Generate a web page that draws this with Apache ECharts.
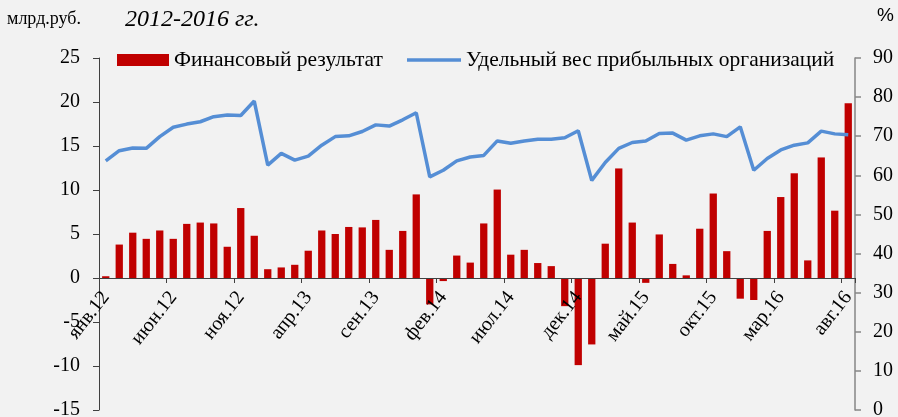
<!DOCTYPE html>
<html>
<head>
<meta charset="utf-8">
<script src="https://cdn.jsdelivr.net/npm/echarts@6/dist/echarts.min.js"></script>
<style>
  html, body { margin: 0; padding: 0; background: #f2f2f2; }
  #chart { width: 898px; height: 417px; }
</style>
</head>
<body>
<div id="chart"></div>
<script>
// Months, January 2012 through August 2016
const months = [
  'янв.12','фев.12','мар.12','апр.12','май.12','июн.12','июл.12','авг.12','сен.12','окт.12','ноя.12','дек.12',
  'янв.13','фев.13','мар.13','апр.13','май.13','июн.13','июл.13','авг.13','сен.13','окт.13','ноя.13','дек.13',
  'янв.14','фев.14','мар.14','апр.14','май.14','июн.14','июл.14','авг.14','сен.14','окт.14','ноя.14','дек.14',
  'янв.15','фев.15','мар.15','апр.15','май.15','июн.15','июл.15','авг.15','сен.15','окт.15','ноя.15','дек.15',
  'янв.16','фев.16','мар.16','апр.16','май.16','июн.16','июл.16','авг.16'
];

// Financial result, bn roubles
const financialResult = [
  0.2, 3.8, 5.15, 4.45, 5.4, 4.45, 6.15, 6.3, 6.2, 3.55, 7.95, 4.8,
  1.0, 1.2, 1.5, 3.1, 5.4, 5.0, 5.8, 5.75, 6.6, 3.2, 5.35, 9.5,
  -3.0, -0.35, 2.55, 1.75, 6.2, 10.05, 2.65, 3.2, 1.7, 1.35, -3.2, -9.9,
  -7.55, 3.9, 12.45, 6.3, -0.55, 4.95, 1.6, 0.3, 5.6, 9.6, 3.05, -2.35,
  -2.5, 5.35, 9.2, 11.9, 2.0, 13.7, 7.65, 19.85
];

// Share of profitable organisations, %
const profitableShare = [
  63.7, 66.3, 67.0, 66.9, 69.9, 72.3, 73.1, 73.7, 75.0, 75.4, 75.3, 79.0,
  62.6, 65.6, 63.9, 64.9, 67.7, 69.9, 70.1, 71.2, 72.9, 72.6, 74.2, 76.0,
  59.6, 61.3, 63.7, 64.7, 65.1, 68.8, 68.2, 68.8, 69.2, 69.2, 69.6, 71.4,
  58.7, 63.3, 66.9, 68.4, 68.8, 70.7, 70.8, 69.0, 70.1, 70.6, 69.9, 72.4,
  61.3, 64.3, 66.5, 67.7, 68.3, 71.3, 70.6, 70.4
];

const leftTicks = { min: -15, max: 25, step: 5 };
const rightTicks = { min: 0, max: 90, step: 10 };

const serif = "'Liberation Serif', 'Times New Roman', serif";

const W = 898, H = 417;
const grid = { left: 99, right: 43, top: 58, bottom: 7 };
// The category axis runs along the zero line of the left value axis
const plotHeight = H - grid.top - grid.bottom;
const zeroOffset = -plotHeight * (0 - leftTicks.min) / (leftTicks.max - leftTicks.min);

const legendText = { fontFamily: serif, fontSize: 21.5, color: '#000' };

const chart = echarts.init(document.getElementById('chart'), null, { renderer: 'canvas' });

chart.setOption({
  backgroundColor: '#f2f2f2',
  animation: false,
  textStyle: { fontFamily: serif, color: '#000' },
  grid: Object.assign({ containLabel: false, outerBoundsMode: 'none' }, grid),
  graphic: [
    { type: 'text', left: 7, top: 10, style: { text: 'млрд.руб.', font: "18px " + serif, fill: '#000' } },
    { type: 'text', left: 125, top: 8, style: { text: '2012-2016 гг.', font: "italic 24px " + serif, fill: '#000' } },
    { type: 'text', left: 877, top: 6, style: { text: '%', font: "19px 'Liberation Sans', Arial, sans-serif", fill: '#000' } }
  ],
  legend: [
    {
      left: 117, top: 49, padding: 0,
      itemWidth: 52, itemHeight: 12, itemGap: 5,
      textStyle: legendText,
      data: [{ name: 'Финансовый результат', icon: 'rect' }]
    },
    {
      left: 407, top: 49, padding: 0,
      itemWidth: 54, itemHeight: 3.5, itemGap: 5,
      textStyle: legendText,
      data: [{ name: 'Удельный вес прибыльных организаций', icon: 'rect' }]
    }
  ],
  xAxis: {
    type: 'category',
    data: months,
    boundaryGap: true,
    offset: zeroOffset,
    z: 5,
    axisLine: { onZero: false, lineStyle: { color: '#404040', width: 1 } },
    axisTick: { show: true, interval: 4, length: 5, inside: false, lineStyle: { color: '#404040' } },
    axisLabel: { interval: 4, rotate: 52, margin: 16, fontFamily: serif, fontSize: 20, color: '#000' },
    splitLine: { show: false }
  },
  yAxis: [
    {
      type: 'value',
      min: leftTicks.min, max: leftTicks.max, interval: leftTicks.step,
      axisLine: { show: true, lineStyle: { color: '#404040' } },
      axisTick: { show: true, length: 6, lineStyle: { color: '#404040' } },
      axisLabel: { margin: 19, fontFamily: serif, fontSize: 20, color: '#000' },
      splitLine: { show: false }
    },
    {
      type: 'value',
      position: 'right',
      min: rightTicks.min, max: rightTicks.max, interval: rightTicks.step,
      axisLine: { show: true, lineStyle: { color: '#868686', width: 1.5 } },
      axisTick: { show: true, length: 6, lineStyle: { color: '#868686', width: 1.5 } },
      axisLabel: { margin: 18, fontFamily: serif, fontSize: 20, color: '#000' },
      splitLine: { show: false }
    }
  ],
  series: [
    {
      name: 'Финансовый результат',
      type: 'bar',
      yAxisIndex: 0,
      data: financialResult,
      barWidth: '54%',
      itemStyle: { color: '#c00000' }
    },
    {
      name: 'Удельный вес прибыльных организаций',
      type: 'line',
      yAxisIndex: 1,
      data: profitableShare,
      symbol: 'none',
      showSymbol: false,
      lineStyle: { color: '#558ed5', width: 3.5 },
      itemStyle: { color: '#558ed5' }
    }
  ]
});
</script>
</body>
</html>
